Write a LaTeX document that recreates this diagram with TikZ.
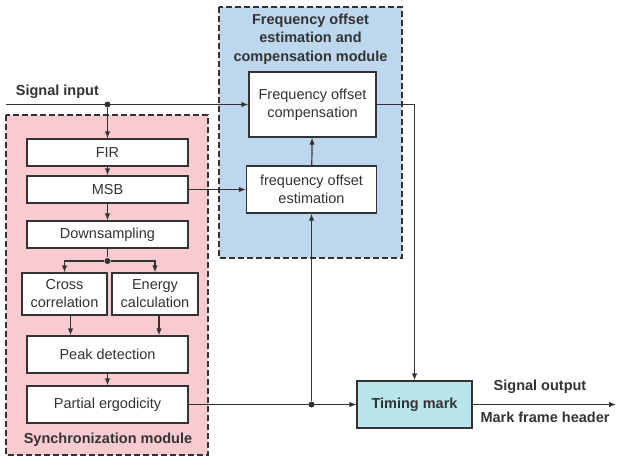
\documentclass[tikz,border=0pt]{standalone}
\usepackage{fontspec}
\setmainfont{Liberation Sans}
\usetikzlibrary{arrows.meta}
\definecolor{syncpink}{HTML}{F9CACF}
\definecolor{freqblue}{HTML}{BDD7EE}
\definecolor{markcyan}{HTML}{B8E5EB}
\definecolor{linegray}{HTML}{333333}
\begin{document}
\begin{tikzpicture}[x=1pt, y=-1pt, font=\fontsize{14.5}{18}\selectfont, color=linegray, line width=1.2pt,
    block/.style = {rectangle, draw, fill=white, inner sep=0pt, align=center},
    module/.style = {rectangle, draw, dash pattern=on 6pt off 3pt},
    junction/.style = {circle, fill, inner sep=0pt, minimum size=6pt},
    bold/.style = {font=\fontsize{14.5}{18.5}\selectfont\bfseries},
    >={Latex[length=7pt, width=5.5pt]}]
  \useasboundingbox (0, 0) rectangle (617, 458);

  % Modules.
  \path [module, fill=syncpink] (6, 115) rectangle (208, 455);
  \path [module, fill=freqblue] (219, 7) rectangle (402, 258);
  \node at (310.5, 39) [align=center, bold, name=FreqTitle]
       {Frequency offset\\estimation and\\compensation module};
  \node at (108, 440) [bold, name=SyncTitle] {Synchronization module};

  % Blocks.
  \node at (107.5, 152.5) [block, minimum width=161, minimum height=27, name=FIR] {FIR};
  \node at (107.5, 189.5) [block, minimum width=161, minimum height=27, name=MSB] {MSB};
  \node at (107.5, 234.5) [block, minimum width=161, minimum height=27, name=Downsampling] {Downsampling};
  \node at (64.5, 294) [block, minimum width=85, minimum height=42, name=Cross] {Cross\\correlation};
  \node at (155, 294) [block, minimum width=86, minimum height=42, name=Energy] {Energy\\calculation};
  \node at (107.5, 354.5) [block, minimum width=161, minimum height=37, name=Peak] {Peak detection};
  \node at (107.5, 404.5) [block, minimum width=161, minimum height=37, name=Partial] {Partial ergodicity};
  \node at (312.5, 104.5) [block, minimum width=127, minimum height=65, name=Compensation] {Frequency offset\\compensation};
  \node at (311.5, 189.5) [block, minimum width=130, minimum height=47, name=Estimation] {frequency offset\\estimation};
  \node at (414.5, 404.5) [block, fill=markcyan, bold,
       minimum width=115, minimum height=47, name=Timing] {Timing mark};

  % Junctions and free ends.
  \coordinate (InputStart) at (6, 104.5);
  \node at (107.5, 104.5) [junction, name=InputSplit] {};
  \node at (107.5, 261) [junction, name=DownSplit] {};
  \node at (Estimation.south |- Partial.east) [junction, name=PartialSplit] {};
  \coordinate (OutputEnd) at (616, 404.5);

  % Labels.
  \node at (12, 92) [anchor=west, bold, name=InputLabel] {Signal input};
  \node at (540, 387) [bold, name=OutputLabel] {Signal output};
  \node at (545, 417) [bold, name=HeaderLabel] {Mark frame header};

  % Signal input.
  \draw [->] (InputStart) to (Compensation.west);
  \draw [->] (InputSplit) to (FIR.north);

  % Synchronization chain.
  \draw [->] (FIR) to (MSB);
  \draw [->] (MSB) to (Downsampling);
  \draw (Downsampling.south) to (DownSplit);
  \draw [->] (DownSplit) -| (Cross.north);
  \draw [->] (DownSplit) -| (Energy.north);
  \draw [->] ([xshift=6]Cross.south) to ([xshift=6]Cross.south |- Peak.north);
  \draw [->] ([xshift=4]Energy.south) to ([xshift=4]Energy.south |- Peak.north);
  \draw [->] (Peak) to (Partial);

  % Frequency offset.
  \draw [->] (MSB.east) to (MSB.east -| Estimation.west);
  \draw [->] (Estimation) to (Compensation);
  \draw [->] (PartialSplit) to (Estimation.south);

  % Timing mark.
  \draw [->] (Partial.east) to (Timing.west);
  \draw [->] (Compensation.east) -| (Timing.north);
  \draw [->] (Timing.east) to (OutputEnd);
\end{tikzpicture}
\end{document}
